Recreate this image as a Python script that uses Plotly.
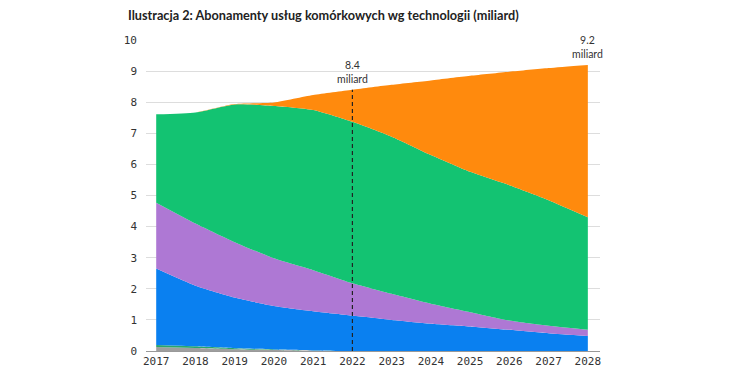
import plotly.graph_objects as go

years = [2017, 2018, 2019, 2020, 2021, 2022, 2023, 2024, 2025, 2026, 2027, 2028]
year_labels = [str(y) for y in years]

# stacked layers, bottom to top (miliard)
other = [0.13, 0.10, 0.06, 0.03, 0.01, 0, 0, 0, 0, 0, 0, 0]
cdma = [0.06, 0.05, 0.03, 0.02, 0.01, 0, 0, 0, 0, 0, 0, 0]
gsm_2g = [2.46, 1.95, 1.63, 1.40, 1.26, 1.14, 1.00, 0.88, 0.79, 0.68, 0.57, 0.48]
wcdma_3g = [2.12, 2.00, 1.78, 1.53, 1.32, 1.04, 0.84, 0.64, 0.46, 0.30, 0.24, 0.20]
lte_4g = [2.84, 3.57, 4.43, 4.90, 5.15, 5.19, 5.05, 4.78, 4.51, 4.35, 4.04, 3.62]
nr_5g = [0, 0, 0.01, 0.11, 0.48, 1.03, 1.67, 2.40, 3.09, 3.65, 4.25, 4.90]

series = [
    ("Inne", other, "#9E9E9E"),
    ("CDMA", cdma, "#2AA56C"),
    ("2G", gsm_2g, "#0A80F0"),
    ("3G", wcdma_3g, "#AE78D4"),
    ("4G", lte_4g, "#13C372"),
    ("5G", nr_5g, "#FF8A0D"),
]

marker_year = 2022
marker_value = 8.4
end_year = 2028
end_value = 9.2

fig = go.Figure()
for name, vals, col in series:
    fig.add_trace(go.Scatter(
        x=years, y=vals, name=name, stackgroup="one", mode="lines",
        line=dict(width=0, shape="spline", smoothing=0.6, color=col),
        fillcolor=col,
    ))

fig.add_trace(go.Scatter(
    x=[marker_year, marker_year], y=[0, marker_value], mode="lines",
    line=dict(color="#222222", width=1.2, dash="4px,3px"), showlegend=False,
))

fig.add_annotation(x=marker_year, y=marker_value, text="8.4<br>miliard", showarrow=False,
                   yanchor="bottom", yshift=3, font=dict(size=10.5, color="#333333", family="Lato"))
fig.add_annotation(x=end_year, y=end_value, text="9.2<br>miliard", showarrow=False,
                   yanchor="bottom", yshift=3, font=dict(size=10.5, color="#333333", family="Lato"))

fig.update_layout(
    width=740, height=388,
    margin=dict(l=138, r=148, t=32, b=45),
    paper_bgcolor="white", plot_bgcolor="white",
    showlegend=False,
    title=dict(text="<b>Ilustracja 2: Abonamenty usług komórkowych wg technologii (miliard)</b>",
               xref="container", x=120 / 740, xanchor="left",
               yref="container", y=1 - 8 / 388, yanchor="middle",
               font=dict(size=12.7, color="#222222", family="Lato")),
    xaxis=dict(range=[2016.74, 2028.31], tickmode="array", tickvals=years, ticktext=year_labels,
               showgrid=False, showline=True, linecolor="#999999", linewidth=1, ticks="",
               tickfont=dict(family="DejaVu Sans Mono", size=11, color="#333333"), zeroline=False),
    yaxis=dict(range=[0, 10], dtick=1, showgrid=True, gridcolor="#DDDDDD", gridwidth=1,
               zeroline=False, ticks="", ticklabelstandoff=8,
               tickfont=dict(family="DejaVu Sans Mono", size=11, color="#333333")),
)

fig.write_html("out.html")
